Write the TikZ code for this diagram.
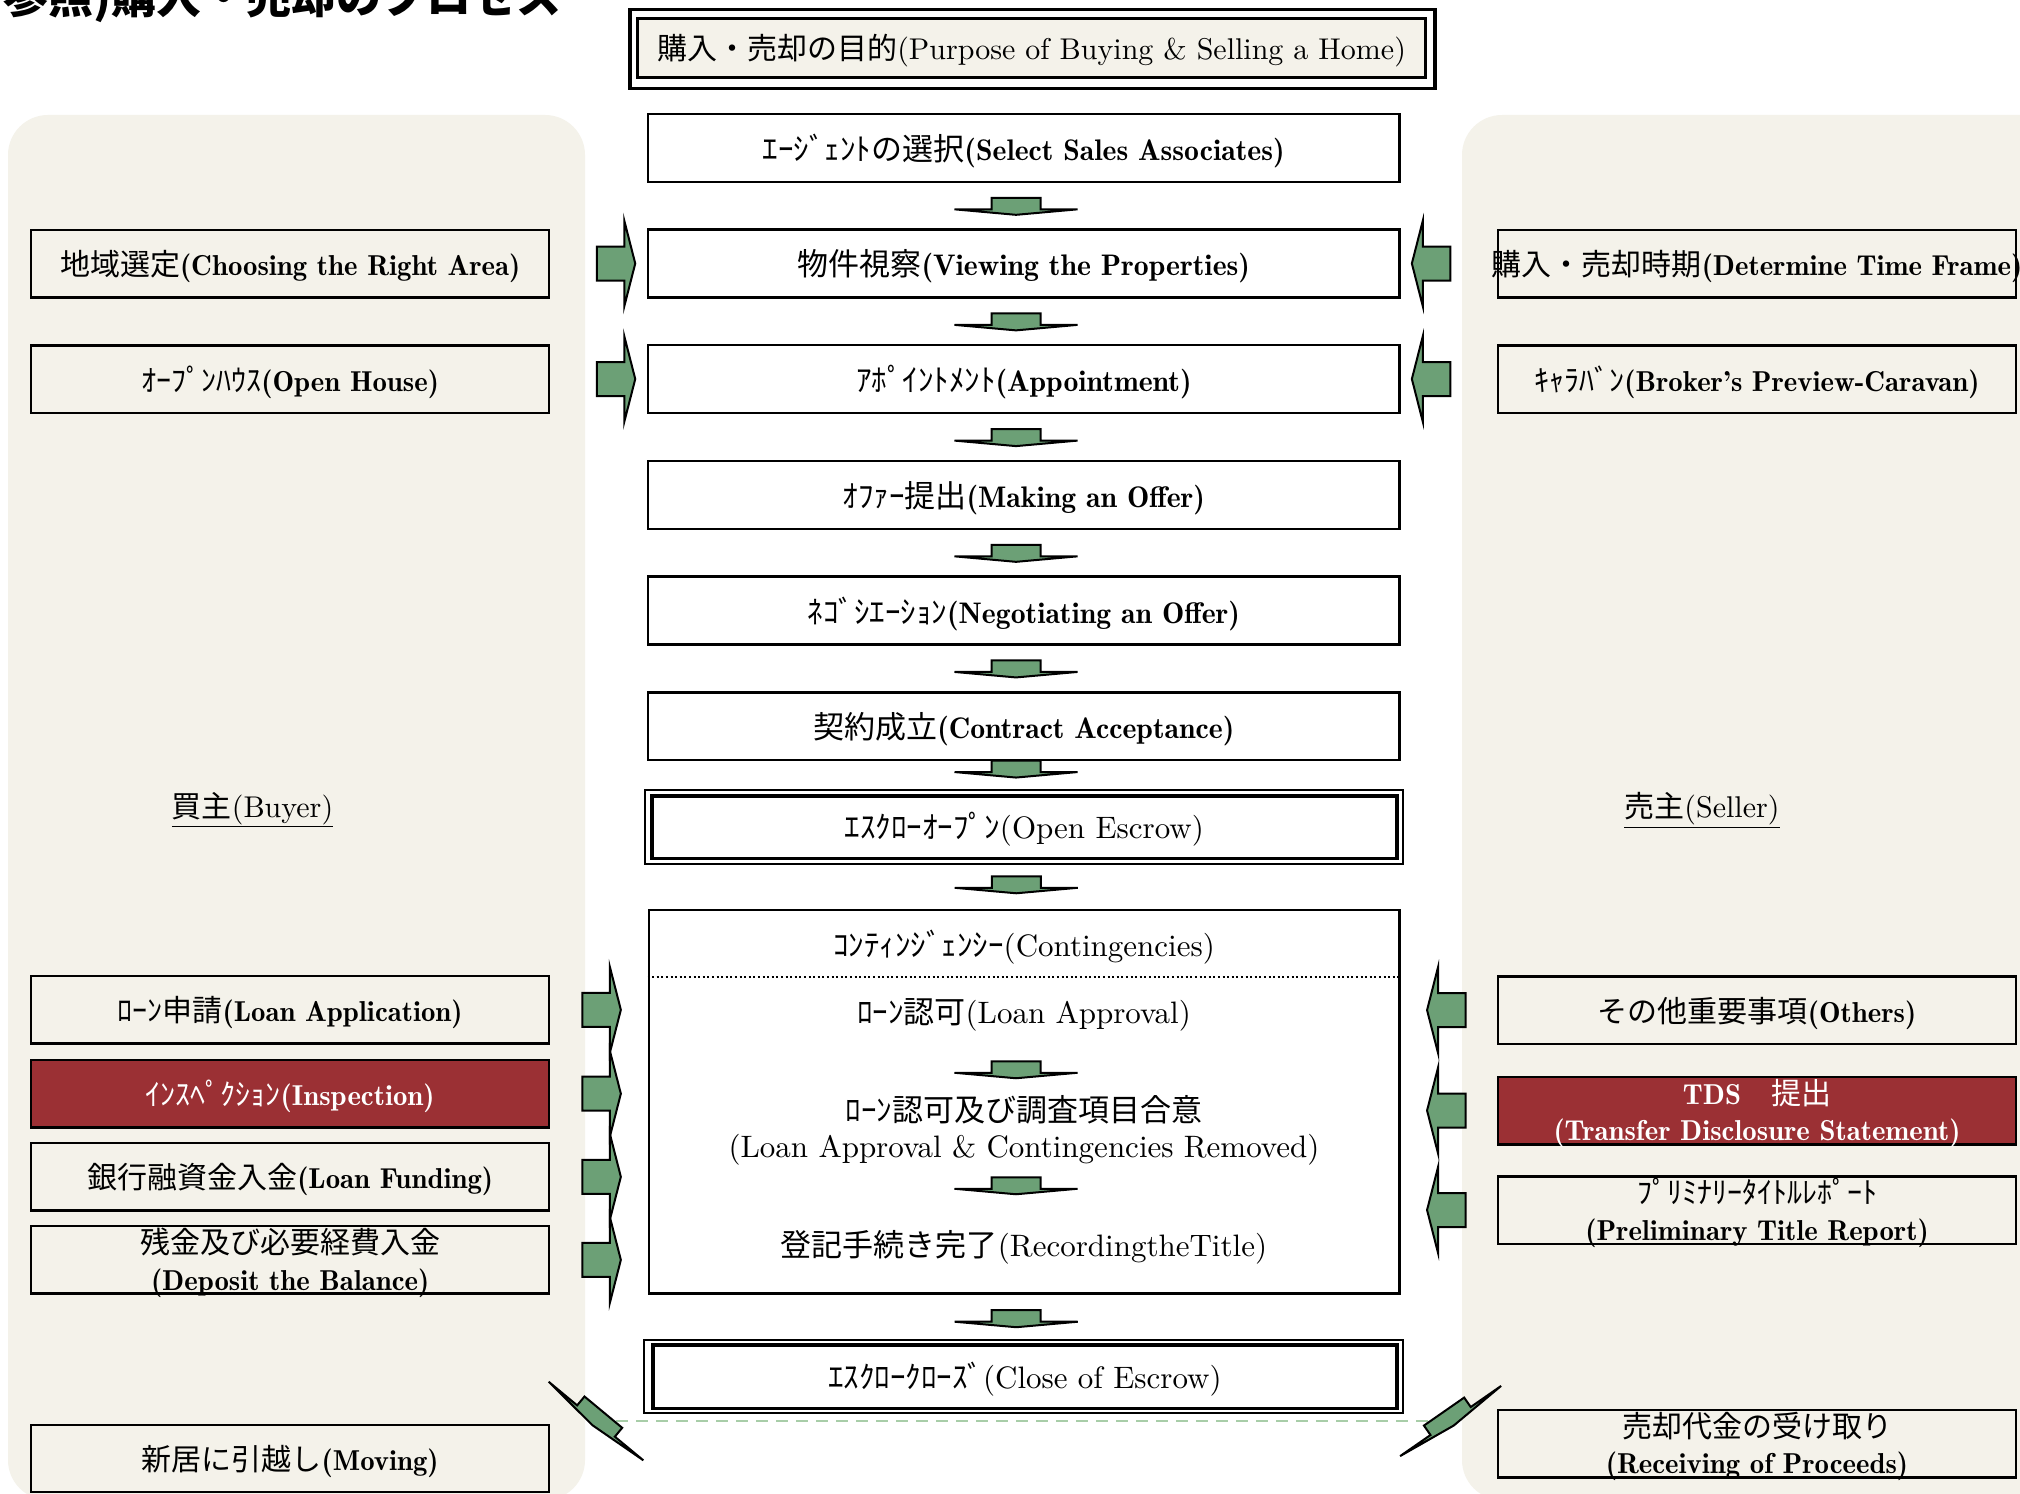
\documentclass[tikz,border=0pt]{standalone}
\usepackage{fontspec}
\setmainfont{lmroman10-regular.otf}
\newfontfamily\jp{Noto Sans CJK JP}
\newfontface\bfen{lmromandemi10-regular.otf}[Scale=0.96]
\usetikzlibrary{calc}
\definecolor{cream}{RGB}{244,242,234}
\definecolor{agreen}{RGB}{108,160,118}
\definecolor{ared}{RGB}{155,48,52}
\definecolor{dgreen}{RGB}{168,205,168}
\newcommand\jtxt[1]{{\jp #1}}
\newcommand\btxt[1]{{\bfen #1}}
\tikzset{
  arrowst/.style={fill=agreen, draw=black, line width=2pt, line join=miter},
  darrow/.pic={\filldraw[arrowst] (-24.5,-11.5) -- (24.5,-11.5) -- (24.5,0) -- (61.5,0) -- (0,5.5) -- (-61.5,0) -- (-24.5,0) -- cycle;},
  rarrow/.pic={\filldraw[arrowst] (0,0) -- (-11,-43) -- (-11,-17) -- (-38.5,-17) -- (-38.5,17) -- (-11,17) -- (-11,43) -- cycle;},
  larrow/.pic={\filldraw[arrowst] (0,0) -- (11,-43) -- (11,-17) -- (38.5,-17) -- (38.5,17) -- (11,17) -- (11,43) -- cycle;},
}
\begin{document}
\begin{tikzpicture}[x=1pt,y=-1pt,
  panel/.style={fill=cream, rounded corners=40pt},
  cbox/.style={draw, line width=2.5pt, fill=white, minimum width=751.6pt, minimum height=67.7pt, inner sep=0pt},
  sbox/.style={draw, line width=2.5pt, fill=cream, minimum width=518pt, minimum height=67.5pt, inner sep=0pt},
  redbox/.style={sbox, fill=ared},
  ctxt/.style={font=\fontsize{31}{36.5}\selectfont, inner sep=0pt, align=center},
  stxt/.style={font=\fontsize{30}{36.5}\selectfont, inner sep=0pt, align=center},
  wtxt/.style={stxt, text=white}]
\useasboundingbox (0,0) rectangle (2020,1493);
\fill[white] (0,0) rectangle (2020,1493);
% panels
\fill[panel] (8,115) rectangle (585,1500);
\fill[panel] (1462,115) rectangle (2080,1500);
% title
\node[anchor=base west, inner sep=0pt, font=\jp\bfseries\fontsize{45}{45}\selectfont] (title) at (3,13.5) {参照)購入・売却のプロセス};
% purpose
\node[draw, line width=3.5pt, fill=white, minimum width=805pt, minimum height=79pt, inner sep=0pt] (purposeo) at (1032.5,48.8) {};
\node[draw, line width=3pt, fill=cream, minimum width=788pt, minimum height=59pt, inner sep=0pt] (purpose) at (1031.6,47.8) {};
\node[stxt] (purposeT) at (1031.6,51) {\jtxt{購入・売却の目的}(Purpose of Buying \& Selling a Home)};
% central boxes
\node[cbox] (agent) at (1023.8,147.9) {};
\node[ctxt, yshift=-3pt] (agentT) at (agent) {\jtxt{ｴｰｼﾞｪﾝﾄの選択}\btxt{(Select Sales Associates)}};
\node[cbox] (view) at (1023.8,263.5) {};
\node[ctxt, yshift=-3pt] (viewT) at (view) {\jtxt{物件視察}\btxt{(Viewing the Properties)}};
\node[cbox] (appt) at (1023.8,379) {};
\node[ctxt, yshift=-3pt] (apptT) at (appt) {\jtxt{ｱﾎﾟｲﾝﾄﾒﾝﾄ}\btxt{(Appointment)}};
\node[cbox] (offer) at (1023.8,494.9) {};
\node[ctxt, yshift=-3pt] (offerT) at (offer) {\jtxt{ｵﾌｧｰ提出}\btxt{(Making an Offer)}};
\node[cbox] (nego) at (1023.8,610.5) {};
\node[ctxt, yshift=-3pt] (negoT) at (nego) {\jtxt{ﾈｺﾞｼｴｰｼｮﾝ}\btxt{(Negotiating an Offer)}};
\node[cbox] (contract) at (1023.8,726.1) {};
\node[ctxt, yshift=-3pt] (contractT) at (contract) {\jtxt{契約成立}\btxt{(Contract Acceptance)}};
% open escrow
\node[draw, line width=2pt, fill=white, minimum width=757.7pt, minimum height=74pt, inner sep=0pt] (oeo) at (1023.9,827) {};
\node[draw, line width=3.5pt, fill=white, minimum width=745.2pt, minimum height=62.3pt, inner sep=0pt] (oe) at (1024.4,827.2) {};
\node[ctxt, yshift=-2pt] (oeT) at (oe) {\jtxt{ｴｽｸﾛｰｵｰﾌﾟﾝ}(Open Escrow)};
% contingencies
\node[draw, line width=2.5pt, fill=white, minimum width=750.9pt, minimum height=383.3pt, inner sep=0pt] (cont) at (1024.2,1101.7) {};
\draw[line width=2.2pt, dash pattern=on 2pt off 2.6pt] (cont.west |- 0,977.3) -- (cont.east |- 0,977.3);
\node[ctxt] (conta) at (1024,946.7) {\jtxt{ｺﾝﾃｨﾝｼﾞｪﾝｼｰ}(Contingencies)};
\node[ctxt] (contb) at (1024,1015) {\jtxt{ﾛｰﾝ認可}(Loan Approval)};
\node[ctxt] (contc) at (1024,1130.5) {\jtxt{ﾛｰﾝ認可及び調査項目合意}\\(Loan Approval \& Contingencies Removed)};
\node[ctxt] (contd) at (1024,1247) {\jtxt{登記手続き完了}(RecordingtheTitle)};
% close escrow
\node[draw, line width=2pt, fill=white, minimum width=758.9pt, minimum height=73.3pt, inner sep=0pt] (ceo) at (1023.9,1376.7) {};
\node[draw, line width=3.5pt, fill=white, minimum width=744.3pt, minimum height=63.3pt, inner sep=0pt] (ce) at (1024.9,1376.7) {};
\node[ctxt, yshift=-2pt] (ceT) at (ce) {\jtxt{ｴｽｸﾛｰｸﾛｰｽﾞ}(Close of Escrow)};
% left side
\node[stxt] (buyer) at (252.5,810) {\underline{\jtxt{買主}(Buyer)}};
\node[sbox] (area) at (290.2,263.5) {};
\node[stxt, yshift=-3pt] (areaT) at (area) {\jtxt{地域選定}\btxt{(Choosing the Right Area)}};
\node[sbox] (openh) at (290.2,379) {};
\node[stxt, yshift=-3pt] (openhT) at (openh) {\jtxt{ｵｰﾌﾟﾝﾊｳｽ}\btxt{(Open House)}};
\node[sbox] (loanapp) at (290.2,1009.8) {};
\node[stxt, yshift=-3pt] (loanappT) at (loanapp) {\jtxt{ﾛｰﾝ申請}\btxt{(Loan Application)}};
\node[redbox] (insp) at (290.2,1093.7) {};
\node[wtxt, yshift=-3pt] (inspT) at (insp) {\jtxt{ｲﾝｽﾍﾟｸｼｮﾝ}\btxt{(Inspection)}};
\node[sbox] (fund) at (290.2,1176.8) {};
\node[stxt, yshift=-3pt] (fundT) at (fund) {\jtxt{銀行融資金入金}\btxt{(Loan Funding)}};
\node[sbox] (depo) at (290.2,1259.9) {};
\node[stxt] (depoT) at (290.2,1263) {\jtxt{残金及び必要経費入金}\\\btxt{(Deposit the Balance)}};
\node[sbox, minimum height=67pt] (moving) at (290.2,1458.5) {};
\node[stxt, yshift=-3pt] (movingT) at (moving) {\jtxt{新居に引越し}\btxt{(Moving)}};
% right side
\node[stxt] (seller) at (1702,810) {\underline{\jtxt{売主}(Seller)}};
\node[sbox] (tframe) at (1757,263.5) {};
\node[stxt, yshift=-3pt] (tframeT) at (1757,263.5) {\jtxt{購入・売却時期}\btxt{(Determine Time Frame)}};
\node[sbox] (caravan) at (1757,379) {};
\node[stxt, yshift=-3pt] (caravanT) at (caravan) {\jtxt{ｷｬﾗﾊﾞﾝ}\btxt{(Broker’s Preview-Caravan)}};
\node[sbox] (others) at (1757,1010.1) {};
\node[stxt, yshift=-3pt] (othersT) at (others) {\jtxt{その他重要事項}\btxt{(Others)}};
\node[redbox] (tds) at (1757,1110.5) {};
\node[wtxt] (tdsT) at (1757,1113.5) {\btxt{TDS}\jtxt{　提出}\\\btxt{(Transfer Disclosure Statement)}};
\node[sbox] (prelim) at (1757,1210) {};
\node[stxt] (prelimT) at (1757,1213) {\jtxt{ﾌﾟﾘﾐﾅﾘｰﾀｲﾄﾙﾚﾎﾟｰﾄ}\\\btxt{(Preliminary Title Report)}};
\node[sbox] (recv) at (1757,1443.9) {};
\node[stxt] (recvT) at (1757,1446.5) {\jtxt{売却代金の受け取り}\\\btxt{(Receiving of Proceeds)}};
% down arrows
\pic at ($(agent.south)!0.58!(view.north)+(-7.8,0)$) {darrow};
\pic at ($(view.south)!0.58!(appt.north)+(-7.8,0)$) {darrow};
\pic at ($(appt.south)!0.58!(offer.north)+(-7.8,0)$) {darrow};
\pic at ($(offer.south)!0.58!(nego.north)+(-7.8,0)$) {darrow};
\pic at ($(nego.south)!0.58!(contract.north)+(-7.8,0)$) {darrow};
\pic at ($(contract.south)!0.39!(oeo.north)+(-7.8,0)$) {darrow};
\pic at ($(oeo.south)!0.52!(cont.north)+(-7.8,0)$) {darrow};
\pic at ($(contb)!0.5!(contc)+(-8,0)$) {darrow};
\pic at ($(contc)!0.5!(contd)+(-8,0)$) {darrow};
\pic at ($(cont.south)!0.61!(ceo.north)+(-7.8,0)$) {darrow};
% side arrows
\pic at ($(view.west)+(-11.5,0)$) {rarrow};
\pic at ($(appt.west)+(-11.5,0)$) {rarrow};
\pic at ($(view.east)+(11,0)$) {larrow};
\pic at ($(appt.east)+(11,0)$) {larrow};
\pic at ($(loanapp.east)+(70.4,0)$) {rarrow};
\pic at ($(insp.east)+(70.4,0)$) {rarrow};
\pic at ($(fund.east)+(70.4,0)$) {rarrow};
\pic at ($(depo.east)+(70.4,0)$) {rarrow};
\pic at ($(others.west)+(-69.7,0)$) {larrow};
\pic at ($(tds.west)+(-69.7,0)$) {larrow};
\pic at ($(prelim.west)+(-69.7,0)$) {larrow};
% diagonal arrows and dashed link
\coordinate (dl) at (596,1421);
\coordinate (dr) at (1450.6,1421);
\draw[dgreen, line width=2.5pt, dash pattern=on 12pt off 8pt] (dl) -- (dr);
\filldraw[arrowst, shift={(dl)}, rotate=-39.7] (-24.5,-11.5) -- (24.5,-11.5) -- (24.5,0) -- (61.5,0) -- (0,5.5) -- (-61.5,0) -- (-24.5,0) -- cycle;
\filldraw[arrowst, shift={(dr)}, rotate=34.8] (-24.5,-11.5) -- (24.5,-11.5) -- (24.5,0) -- (61.5,0) -- (0,5.5) -- (-61.5,0) -- (-24.5,0) -- cycle;
\end{tikzpicture}
\end{document}
